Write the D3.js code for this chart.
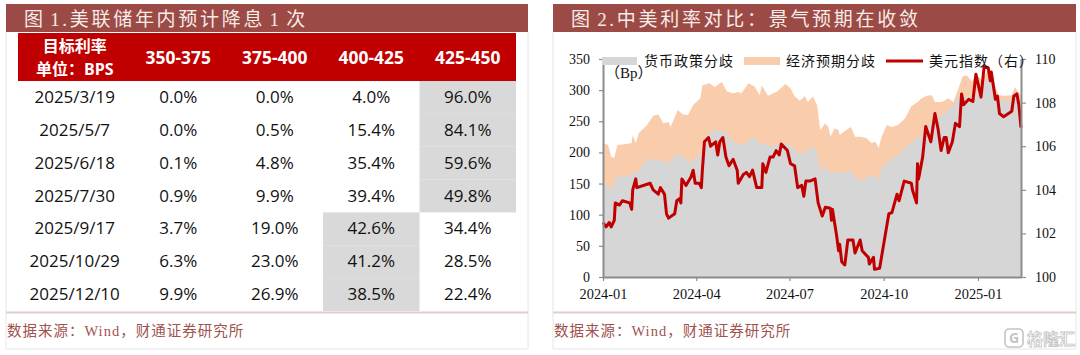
<!DOCTYPE html>
<html><head><meta charset="utf-8">
<script src="https://cdnjs.cloudflare.com/ajax/libs/d3/7.8.5/d3.min.js"></script>
<style>html,body{margin:0;padding:0;background:#fff;overflow:hidden}svg{display:block}</style>
</head><body><div id="c"></div>
<script>
const title1="图 1.美联储年内预计降息 1 次";
const title2="图 2.中美利率对比：景气预期在收敛";
const sourceText="数据来源：Wind，财通证券研究所";
const headerFirst=["目标利率","单位：BPS"];
const rateBands=["350-375","375-400","400-425","425-450"];
const meetings=["2025/3/19","2025/5/7","2025/6/18","2025/7/30","2025/9/17","2025/10/29","2025/12/10"];
const prob350=[0.0,0.0,0.1,0.9,3.7,6.3,9.9];
const prob375=[0.0,0.5,4.8,9.9,19.0,23.0,26.9];
const prob400=[4.0,15.4,35.4,39.4,42.6,41.2,38.5];
const prob425=[96.0,84.1,59.6,49.8,34.4,28.5,22.4];

const startDate=new Date(2024,0,1);
const xTickDates=[new Date(2024,0,1),new Date(2024,3,1),new Date(2024,6,1),new Date(2024,9,1),new Date(2025,0,1)];
const leftTicks=[0,50,100,150,200,250,300,350];
const rightTicks=[100,102,104,106,108,110];
const legendLabels=["货币政策分歧","经济预期分歧","美元指数（右）"];

const econDays=[0,5,8,11,14,21,28,29,32,35,43,49,54,59,64,66,73,78,83,88,95,97,104,109,116,121,127,132,135,142,148,153,155,161,170,178,183,187,192,197,200,205,207,209,212,217,220,222,226,230,231,235,242,246,251,257,262,266,269,272,277,282,288,295,301,308,311,316,321,324,331,337,342,347,351,355,360,365,370,374,377,380,383,386,392,399,402,406,408];
const econVals=[215,212,193,191,212,213,215,228,215,231,244,259,261,247,249,241,268,261,260,276,287,308,311,305,313,298,295,297,295,311,306,292,308,291,298,310,303,290,283,290,281,290,282,276,236,247,241,225,239,236,228,233,241,225,225,223,215,217,207,225,244,241,244,255,274,282,287,291,292,281,281,287,281,303,322,324,314,324,316,327,335,318,306,292,291,292,305,295,292];
const policyDays=[0,5,8,11,13,26,33,39,46,54,64,72,78,85,95,100,109,119,124,132,140,147,153,164,173,179,186,192,200,207,209,212,216,222,228,234,243,248,254,261,269,272,280,288,300,309,316,324,333,342,347,352,360,365,372,377,381,386,392,399,404,408];
const policyVals=[150,146,142,148,160,164,167,183,190,188,183,199,193,183,196,225,236,233,223,212,215,225,215,209,215,215,207,196,204,209,199,169,180,167,169,167,169,156,156,164,156,175,188,196,215,225,240,255,262,275,292,290,288,296,312,320,305,285,283,282,290,272];
const dollarDays=[0,3,6,8,11,12,16,19,26,28,29,32,33,46,49,54,56,60,62,64,70,72,75,76,77,81,86,88,90,94,96,97,99,103,105,110,112,114,117,120,123,127,131,132,137,140,143,146,150,155,156,159,163,166,169,172,174,180,183,187,190,194,196,198,202,207,210,214,217,222,223,224,228,230,231,233,236,239,244,246,251,253,259,260,264,265,270,279,282,287,289,294,301,302,306,307,308,312,315,320,324,327,330,333,335,337,341,344,348,350,352,357,361,364,369,372,376,378,379,383,385,387,391,399,401,404,406,408];
const dollarVals=[102.5,102.3,102.5,102.3,102.6,103.4,103.3,103.5,103.4,103.1,104.0,104.5,104.1,104.3,104.0,103.8,104.1,103.8,102.9,102.7,102.9,103.5,103.6,103.4,104.5,104.2,104.6,104.9,104.3,104.3,104.1,104.9,106.2,106.4,106.0,106.2,105.6,106.2,106.4,105.5,105.1,105.4,104.9,104.3,104.7,104.8,104.6,104.9,104.1,104.1,105.2,104.8,105.5,105.5,105.8,105.6,106.1,105.8,105.2,105.1,104.1,104.2,103.7,104.4,104.4,104.5,103.4,102.8,103.2,103.15,102.6,103.1,101.9,101.2,101.5,100.7,100.55,101.7,101.7,101.1,101.7,101.2,100.9,100.6,100.9,100.35,100.4,102.9,102.95,103.8,103.5,104.4,104.3,104.0,103.4,105.2,104.5,105.5,106.9,106.2,107.5,106.8,105.8,106.4,106.4,105.7,106.2,107.05,106.9,108.4,107.9,108.15,108.05,109.3,108.25,109.65,109.6,109.0,109.4,108.15,108.3,107.5,107.35,107.6,108.3,108.4,107.85,106.85];

const W=1080,H=355;
const serif="'Liberation Serif','Noto Sans CJK SC',serif";
const sans="'Open Sans','Noto Sans CJK SC',sans-serif";
const svg=d3.select("#c").append("svg").attr("width",W).attr("height",H);
svg.append("rect").attr("width",W).attr("height",H).attr("fill","#fff");

const barColor="#9C4A46", ruleColor="#DCD0CC", frameColor="#E6E6E6";
function panel(x0,x1,title,tx,sx,wordGap){
  svg.append("path").attr("d",`M${x0},32V349H${x1}V32`).attr("fill","none").attr("stroke",frameColor);
  svg.append("rect").attr("x",x0).attr("y",4).attr("width",x1-x0).attr("height",28).attr("fill",barColor);
  svg.append("text").attr("x",tx).attr("y",25.5).attr("fill","#F6ECE8")
    .attr("font-family",serif).attr("font-size",19).attr("letter-spacing",2.7).attr("word-spacing",wordGap).text(title);
  svg.append("line").attr("x1",x0).attr("x2",x1).attr("y1",312.5).attr("y2",312.5).attr("stroke",ruleColor).attr("stroke-width",2);
  svg.append("text").attr("x",sx).attr("y",336).attr("fill","#A0524E")
    .attr("font-family",serif).attr("font-size",14.5).attr("letter-spacing",1).text(sourceText);
}
panel(6,528,title1,24,7,-3);
panel(553,1076,title2,571,554,-3);

/* table */
const colEdges=d3.scaleBand().domain(rateBands).range([130,516]);
const rowScale=d3.scaleBand().domain(meetings).range([81,311]);
const probCols=[prob350,prob375,prob400,prob425];
const t=svg.append("g");
t.append("rect").attr("x",18).attr("y",33).attr("width",498).attr("height",48).attr("fill","#C00000");
meetings.forEach((m,r)=>{
  const vals=probCols.map(c=>c[r]);
  const mi=d3.maxIndex(vals);
  t.append("rect").attr("x",colEdges(rateBands[mi])).attr("y",rowScale(m)).attr("width",colEdges.bandwidth())
   .attr("height",rowScale.bandwidth()).attr("fill","#D9D9D9");
});
function sty(s,o){Object.entries(o).forEach(([k,v])=>s.attr(k,v));return s;}
const hs={"font-family":sans,"font-size":16,"font-weight":700,"fill":"#fff","text-anchor":"middle","dominant-baseline":"central"};
headerFirst.forEach((h,i)=>sty(t.append("text").attr("x",74.7).attr("y",46+i*23),hs).text(h));
rateBands.forEach(b=>sty(t.append("text").attr("x",colEdges(b)+colEdges.bandwidth()/2).attr("y",57),hs).attr("font-size",17.4).text(b));
const bs={"font-family":sans,"font-size":17,"fill":"#111","text-anchor":"middle","dominant-baseline":"central"};
meetings.forEach((m,r)=>{
  const y=rowScale(m)+rowScale.bandwidth()/2-1;
  sty(t.append("text").attr("x",74.7).attr("y",y),bs).text(m);
  rateBands.forEach((b,c)=>sty(t.append("text").attr("x",colEdges(b)+colEdges.bandwidth()/2).attr("y",y),bs).text(probCols[c][r].toFixed(1)+"%"));
});

/* chart */
const toDate=d=>d3.timeDay.offset(startDate,d);
const x=d3.scaleTime().domain([startDate,toDate(408)]).range([603,1021]);
const yL=d3.scaleLinear().domain([0,350]).range([277,59]);
const yR=d3.scaleLinear().domain([100,110]).range([277,59]);
const area=(days,vals)=>d3.area().x((d,i)=>x(toDate(days[i]))).y0(yL(0)).y1((d,i)=>yL(d))(vals);
const orange="#F9CDAC",gray="#D6D6D6",red="#C00000",axisC="#8C8C8C";
const ch=svg.append("g");
ch.append("path").attr("d",area(econDays,econVals)).attr("fill",orange);
ch.append("path").attr("d",area(policyDays,policyVals)).attr("fill",gray);
ch.append("path").attr("d",d3.line().x((d,i)=>x(toDate(dollarDays[i]))).y(d=>yR(d))(dollarVals))
  .attr("fill","none").attr("stroke",red).attr("stroke-width",3).attr("stroke-linejoin","round");

function styleAxis(g){
  g.selectAll("path").attr("stroke",axisC).attr("stroke-width",2);
  g.selectAll("line").attr("stroke",axisC).attr("stroke-width",1.2);
  g.selectAll("text").attr("font-family",serif).attr("font-size",14).attr("fill","#111");
}
ch.append("g").attr("transform","translate(603,0)")
  .call(d3.axisLeft(yL).tickValues(leftTicks).tickSize(4).tickPadding(9).tickSizeOuter(0)).call(styleAxis);
ch.append("g").attr("transform","translate(1021,0)")
  .call(d3.axisRight(yR).tickValues(rightTicks).tickSize(5).tickPadding(9).tickSizeOuter(0)).call(styleAxis);
ch.append("g").attr("transform","translate(0,277)")
  .call(d3.axisBottom(x).tickValues(xTickDates).tickFormat(d3.timeFormat("%Y-%m")).tickSize(4).tickPadding(8).tickSizeOuter(0))
  .call(styleAxis).call(g=>g.selectAll("text").attr("font-size",14.4));

/* legend */
const lg=svg.append("g");
const ls={"font-family":serif,"font-size":14,"fill":"#111","letter-spacing":1,"dominant-baseline":"central"};
lg.append("rect").attr("x",602).attr("y",57).attr("width",35).attr("height",8).attr("fill",gray);
sty(lg.append("text").attr("x",644).attr("y",61),ls).text(legendLabels[0]);
lg.append("rect").attr("x",744).attr("y",57).attr("width",36).attr("height",8).attr("fill",orange);
sty(lg.append("text").attr("x",786).attr("y",61),ls).text(legendLabels[1]);
lg.append("line").attr("x1",886).attr("x2",923).attr("y1",61).attr("y2",61).attr("stroke",red).attr("stroke-width",3);
sty(lg.append("text").attr("x",929).attr("y",61),ls).text(legendLabels[2]);
svg.append("text").attr("x",605).attr("y",78).attr("font-family",serif).attr("font-size",15).attr("fill","#111").text("（Bp）");

/* watermark */
const wm=svg.append("g");
wm.append("rect").attr("x",1005).attr("y",329).attr("width",18).attr("height",18).attr("rx",4)
  .attr("fill","none").attr("stroke","#C4C4C4").attr("stroke-width",1.6);
wm.append("text").attr("x",1014).attr("y",343).attr("text-anchor","middle").attr("font-family",sans).attr("font-size",14).attr("font-weight",700).attr("fill","#C4C4C4").text("G");
wm.append("text").attr("x",1027).attr("y",344.5).attr("font-family",sans).attr("font-size",16).attr("font-weight",700)
  .attr("fill","#fff").attr("stroke","#C4C4C4").attr("stroke-width",0.8).text("格隆汇");
</script></body></html>
